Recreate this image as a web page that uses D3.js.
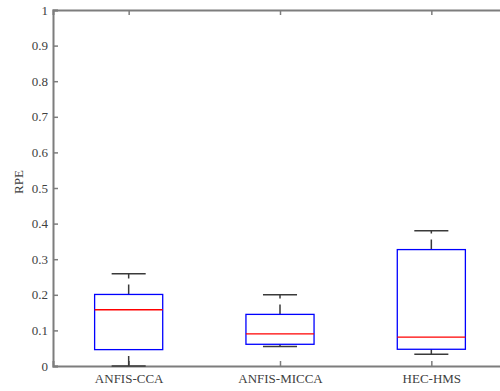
<!DOCTYPE html>
<html>
<head>
<meta charset="utf-8">
<script src="https://cdn.jsdelivr.net/npm/d3@7"></script>
<style>
  html, body { margin: 0; padding: 0; background: #fff; }
  svg { display: block; }
  text { font-family: "Liberation Serif", "Times New Roman", serif; }
</style>
</head>
<body>
<svg id="chart" width="500" height="391"></svg>
<script>
// Box-plot summary statistics for each model (relative peak error)
const categories    = ["ANFIS-CCA", "ANFIS-MICCA", "HEC-HMS"];
const lowerWhisker  = [0.000, 0.055, 0.033];
const quartile1     = [0.046, 0.061, 0.047];
const medians       = [0.158, 0.090, 0.081];
const quartile3     = [0.201, 0.145, 0.327];
const upperWhisker  = [0.259, 0.200, 0.380];

const yTickValues = [0, 0.1, 0.2, 0.3, 0.4, 0.5, 0.6, 0.7, 0.8, 0.9, 1];
const yTickLabels = ["0", "0.1", "0.2", "0.3", "0.4", "0.5", "0.6", "0.7", "0.8", "0.9", "1"];
const yLabel = "RPE";

const svg = d3.select("#chart");
const plotLeft = 53, plotRight = 507, plotTop = 10, plotBottom = 366;

const x = d3.scaleLinear().domain([0.5, categories.length + 0.5]).range([plotLeft, plotRight]);
const y = d3.scaleLinear().domain([0, 1]).range([plotBottom, plotTop]);

const axisColor = "#7d7d7d";
const textColor = "#404040";
const fontStack = '"Liberation Serif", "Times New Roman", serif';
const boxWidth = 0.45;   // in category units
const capWidth = boxWidth / 2;

const positions = categories.map((_, i) => i + 1);

// Axes (ticks point inward, MATLAB style)
const gy = svg.append("g").attr("transform", `translate(${plotLeft},0)`)
  .call(d3.axisLeft(y).tickValues(yTickValues)
    .tickFormat((d, i) => yTickLabels[i]).tickSize(-5).tickPadding(5));

const gx = svg.append("g").attr("transform", `translate(0,${plotBottom})`)
  .call(d3.axisBottom(x).tickValues(positions)
    .tickFormat((d, i) => categories[i]).tickSize(-5).tickPadding(8));

const gt = svg.append("g").attr("transform", `translate(0,${plotTop})`)
  .call(d3.axisTop(x).tickValues(positions).tickFormat("").tickSize(-5));

const gr = svg.append("g").attr("transform", `translate(${plotRight},0)`)
  .call(d3.axisRight(y).tickValues(yTickValues).tickFormat("").tickSize(-5));

[gy, gx, gt, gr].forEach(g => {
  g.attr("font-family", fontStack).attr("font-size", 13);
  g.select(".domain").attr("stroke", axisColor).attr("stroke-width", 2);
  g.selectAll(".tick line").attr("stroke", axisColor).attr("stroke-width", 1.5);
  g.selectAll(".tick text").attr("fill", textColor);
});

svg.append("text")
  .attr("transform", `translate(23,182) rotate(-90)`)
  .attr("text-anchor", "middle")
  .attr("fill", textColor)
  .attr("font-family", fontStack)
  .attr("font-size", 13)
  .text(yLabel);

// Boxes
const data = categories.map((c, i) => ({
  pos: positions[i], lo: lowerWhisker[i], q1: quartile1[i], med: medians[i],
  q3: quartile3[i], hi: upperWhisker[i]
}));

const boxes = svg.append("g").selectAll("g").data(data).join("g");

// Whiskers: dashed, drawn from the lower value upward
const whiskerColor = "#3a3a3a";
boxes.append("line")
  .attr("x1", d => x(d.pos)).attr("x2", d => x(d.pos))
  .attr("y1", d => y(d.q3)).attr("y2", d => y(d.hi))
  .attr("stroke", whiskerColor).attr("stroke-width", 1.5).attr("stroke-dasharray", "10,6");
boxes.append("line")
  .attr("x1", d => x(d.pos)).attr("x2", d => x(d.pos))
  .attr("y1", d => y(d.lo)).attr("y2", d => y(d.q1))
  .attr("stroke", whiskerColor).attr("stroke-width", 1.5).attr("stroke-dasharray", "10,6");

// Whisker caps
boxes.append("line")
  .attr("x1", d => x(d.pos - capWidth / 2)).attr("x2", d => x(d.pos + capWidth / 2))
  .attr("y1", d => y(d.hi)).attr("y2", d => y(d.hi))
  .attr("stroke", whiskerColor).attr("stroke-width", 1.5);
boxes.append("line")
  .attr("x1", d => x(d.pos - capWidth / 2)).attr("x2", d => x(d.pos + capWidth / 2))
  .attr("y1", d => y(d.lo)).attr("y2", d => y(d.lo))
  .attr("stroke", whiskerColor).attr("stroke-width", 1.5);

// Interquartile box
boxes.append("rect")
  .attr("x", d => x(d.pos - boxWidth / 2))
  .attr("width", d => x(d.pos + boxWidth / 2) - x(d.pos - boxWidth / 2))
  .attr("y", d => y(d.q3))
  .attr("height", d => y(d.q1) - y(d.q3))
  .attr("fill", "none").attr("stroke", "#0000ff").attr("stroke-width", 1.3);

// Median
boxes.append("line")
  .attr("x1", d => x(d.pos - boxWidth / 2)).attr("x2", d => x(d.pos + boxWidth / 2))
  .attr("y1", d => y(d.med)).attr("y2", d => y(d.med))
  .attr("stroke", "#ff0000").attr("stroke-width", 1.3);
</script>
</body>
</html>
